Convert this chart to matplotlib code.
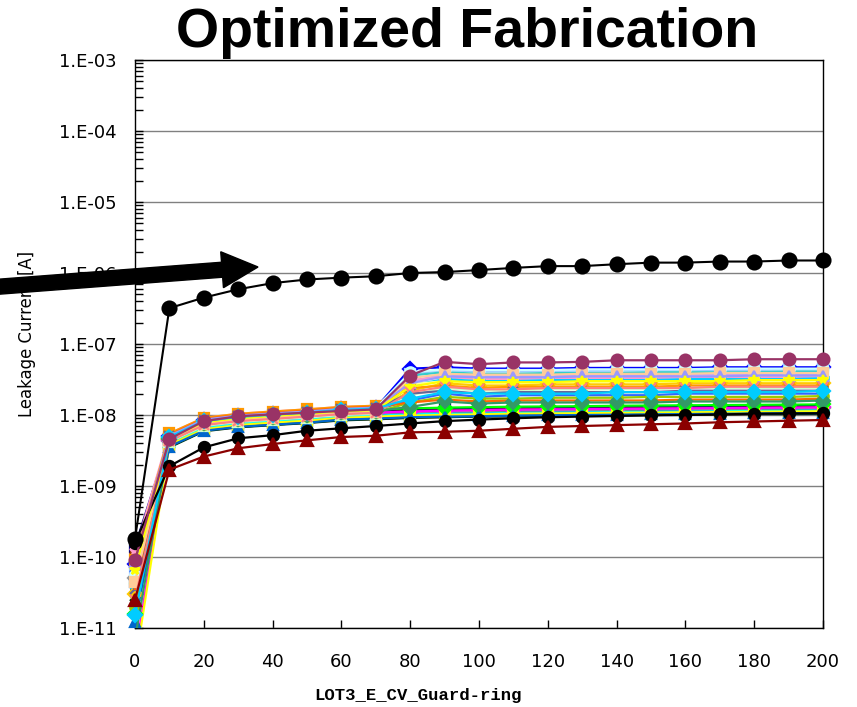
import numpy as np
import matplotlib
matplotlib.use("Agg")
import matplotlib.pyplot as plt
from matplotlib.patches import FancyArrow
from matplotlib.transforms import IdentityTransform
from matplotlib.ticker import LogLocator, NullFormatter, FuncFormatter

# bias voltage [V]
bias = [0, 10, 20, 30, 40, 50, 60, 70, 80, 90, 100,
        110, 120, 130, 140, 150, 160, 170, 180, 190, 200]

# leakage currents in nA (x 1e-9 A)
standard = [0.18, 320, 450, 590, 720, 810, 860, 900, 1000, 1030, 1100,
            1180, 1250, 1250, 1330, 1400, 1400, 1450, 1450, 1500, 1500]

low_tri = [0.025, 1.7, 2.6, 3.4, 3.9, 4.4, 4.9, 5.1, 5.7, 5.8, 6.0,
           6.4, 6.8, 7.0, 7.2, 7.4, 7.6, 7.9, 8.1, 8.3, 8.5]
low_circ = [0.16, 1.9, 3.5, 4.7, 5.2, 6.0, 6.5, 7.0, 7.6, 8.2, 8.6,
            9.0, 9.3, 9.5, 9.7, 9.9, 10.0, 10.2, 10.4, 10.5, 10.6]
top_circ = [0.09, 4.6, 8.2, 9.6, 10.2, 10.8, 11.4, 12.0, 36, 56, 52,
            55, 55, 56, 59, 59, 59, 59, 61, 61, 61]

# diodes whose current steps up around 80 V
step_rows = [
    [0.08, 5.0, 8.4, 9.6, 10.3, 11.0, 12.0, 12.5, 45, 47, 45, 45, 45, 46, 46, 46, 46, 47, 47, 47, 47],
    [0.06, 4.8, 8.0, 9.2, 9.9, 10.6, 11.5, 12.0, 38, 43, 41, 41, 42, 42, 42, 43, 43, 43, 43, 44, 44],
    [0.10, 5.2, 8.8, 10.0, 10.7, 11.5, 12.5, 13.0, 36, 40, 38, 38, 39, 39, 39, 40, 40, 40, 40, 41, 41],
    [0.05, 4.6, 7.7, 8.8, 9.5, 10.1, 11.0, 11.4, 30, 37, 35, 35, 36, 36, 36, 36, 37, 37, 37, 37, 38],
    [0.12, 5.5, 9.1, 10.4, 11.2, 12.0, 13.0, 13.5, 31, 34, 32, 32, 33, 33, 33, 33, 34, 34, 34, 34, 35],
    [0.04, 4.4, 7.4, 8.4, 9.0, 9.7, 10.5, 10.9, 26, 32, 30, 30, 31, 31, 31, 31, 32, 32, 32, 32, 33],
    [0.07, 5.0, 8.4, 9.6, 10.3, 11.0, 12.0, 12.5, 27, 30, 28, 28, 29, 29, 29, 29, 30, 30, 30, 30, 31],
    [0.03, 4.6, 7.7, 8.8, 9.5, 10.1, 11.0, 11.4, 22, 28, 26, 26, 27, 27, 27, 27, 28, 28, 28, 28, 28],
    [0.09, 5.5, 9.1, 10.4, 11.2, 12.0, 13.0, 13.5, 24, 26, 24, 25, 25, 25, 25, 25, 26, 26, 26, 26, 26],
    [0.05, 4.2, 7.0, 8.0, 8.6, 9.2, 10.0, 10.4, 19, 24, 22, 22, 23, 23, 23, 23, 24, 24, 24, 24, 24],
    [0.035, 5.0, 8.4, 9.6, 10.3, 11.0, 12.0, 12.5, 20, 22, 20, 21, 21, 21, 21, 21, 22, 22, 22, 22, 22],
    [0.06, 4.8, 8.0, 9.2, 9.9, 10.6, 11.5, 12.0, 16, 20, 18, 19, 19, 19, 19, 19, 20, 20, 20, 20, 20],
    [0.02, 4.4, 7.4, 8.4, 9.0, 9.7, 10.5, 10.9, 15, 18, 17, 17, 17.5, 17.5, 17.5, 18, 18, 18, 18, 18, 18.5],
    [0.04, 5.2, 8.8, 10.0, 10.7, 11.5, 12.5, 13.0, 15, 16.5, 15.5, 16, 16, 16, 16, 16, 16.5, 16.5, 16.5, 16.5, 17],
    [0.007, 4.6, 7.7, 8.8, 9.5, 10.1, 11.0, 11.4, 13, 15.5, 14.5, 15, 15, 15, 15, 15, 15.5, 15.5, 15.5, 15.5, 16],
    [0.055, 4.9, 8.2, 9.4, 10.1, 10.8, 11.8, 12.3, 40, 44, 43, 43, 43, 44, 44, 44, 44, 45, 45, 45, 45],
    [0.045, 4.5, 7.5, 8.6, 9.2, 9.9, 10.8, 11.2, 33, 38, 37, 37, 37, 38, 38, 38, 38, 39, 39, 39, 39],
    [0.085, 5.1, 8.6, 9.8, 10.5, 11.2, 12.2, 12.7, 28, 35, 34, 34, 34, 35, 35, 35, 35, 35, 36, 36, 36],
    [0.065, 4.7, 7.9, 9.0, 9.7, 10.4, 11.3, 11.7, 25, 30, 29, 29, 29, 30, 30, 30, 30, 30, 31, 31, 31],
    [0.025, 4.3, 7.2, 8.2, 8.8, 9.5, 10.3, 10.7, 21, 25, 23, 23, 24, 24, 24, 24, 24, 25, 25, 25, 25],
    [0.015, 4.9, 8.2, 9.4, 10.1, 10.8, 11.8, 12.3, 17, 21, 20, 20, 20, 20, 21, 21, 21, 21, 21, 21, 22],
]
step_colors = ['#0000FF', '#99CCFF', '#33CCCC', '#CC99FF', '#FF99CC', '#00CCFF', '#FFFF99',
               '#FFCC00', '#FF9900', '#CCFFCC', '#666699', '#3366FF', '#99CC00', '#FF6600', '#339966',
               '#CCFFFF', '#FFCC99', '#9999FF', '#FFFF00', '#FF8080', '#00CCFF']
step_marks = ['D', 's', '^', 'x', '*', 'o', '+', 'D', 's', '^', 'x', '*', 'o', '+', 'D',
              'o', 's', '^', '*', 'x', 'D']

# diodes that stay flat
flat_rows = [
    [0.14, 4.6, 7.7, 8.8, 9.5, 10.1, 11.0, 11.4, 11.9, 12.1, 12.3, 12.5, 12.7, 12.8, 12.9, 13.0, 13.1, 13.2, 13.3, 13.4, 13.5],
    [0.11, 4.4, 7.4, 8.4, 9.0, 9.7, 10.5, 10.9, 11.3, 11.6, 11.8, 12.0, 12.1, 12.2, 12.3, 12.4, 12.5, 12.6, 12.7, 12.8, 12.9],
    [0.09, 4.2, 7.0, 8.0, 8.6, 9.2, 10.0, 10.4, 10.8, 11.0, 11.2, 11.4, 11.5, 11.6, 11.7, 11.8, 11.9, 12.0, 12.1, 12.2, 12.3],
    [0.075, 4.0, 6.7, 7.6, 8.2, 8.7, 9.5, 9.9, 10.3, 10.5, 10.6, 10.8, 10.9, 11.0, 11.1, 11.2, 11.3, 11.4, 11.5, 11.6, 11.7],
    [0.065, 3.8, 6.3, 7.2, 7.7, 8.3, 9.0, 9.4, 9.7, 9.9, 10.1, 10.3, 10.4, 10.4, 10.5, 10.6, 10.7, 10.8, 10.9, 11.0, 11.1],
    [0.05, 4.3, 7.1, 8.2, 8.8, 9.4, 10.2, 10.6, 11.0, 11.2, 11.4, 11.6, 11.7, 11.8, 11.9, 12.0, 12.1, 12.2, 12.3, 12.4, 12.5],
    [0.045, 3.7, 6.2, 7.1, 7.7, 8.2, 8.9, 9.3, 9.6, 9.8, 10.0, 10.1, 10.2, 10.3, 10.4, 10.5, 10.6, 10.7, 10.8, 10.9, 11.0],
    [0.035, 3.6, 6.0, 6.8, 7.3, 7.8, 8.5, 8.8, 9.2, 9.4, 9.5, 9.7, 9.8, 9.9, 10.0, 10.0, 10.1, 10.2, 10.3, 10.4, 10.5],
    [0.03, 3.9, 6.6, 7.5, 8.1, 8.6, 9.4, 9.8, 10.2, 10.4, 10.5, 10.7, 10.8, 10.9, 11.0, 11.1, 11.2, 11.3, 11.4, 11.5, 11.6],
    [0.028, 3.5, 5.9, 6.7, 7.2, 7.7, 8.4, 8.7, 9.1, 9.3, 9.5, 9.6, 9.7, 9.8, 9.9, 10.0, 10.1, 10.2, 10.3, 10.3, 10.4],
    [0.004, 4.4, 7.3, 8.4, 9.0, 9.6, 10.4, 10.8, 11.2, 11.5, 11.7, 11.9, 12.0, 12.1, 12.2, 12.3, 12.4, 12.5, 12.6, 12.7, 12.8],
    [0.003, 3.8, 6.3, 7.2, 7.8, 8.3, 9.1, 9.5, 9.8, 10.0, 10.2, 10.4, 10.5, 10.6, 10.7, 10.8, 10.9, 11.0, 11.1, 11.2, 11.3],
    [0.016, 4.8, 8.0, 9.2, 9.9, 10.6, 11.5, 12.0, 12.4, 12.7, 12.9, 13.1, 13.2, 13.3, 13.5, 13.6, 13.7, 13.8, 13.9, 14.0, 14.1],
    [0.012, 3.6, 6.0, 6.8, 7.3, 7.8, 8.6, 8.9, 9.3, 9.5, 9.6, 9.8, 9.9, 10.0, 10.1, 10.2, 10.3, 10.4, 10.5, 10.6, 10.6],
]
flat_colors = ['#000080', '#993300', '#008080', '#800080', '#333399', '#969696', '#003366',
               '#993366', '#00FFFF', '#003300', '#FF00FF', '#FFFF00', '#00FF00', '#0066CC']
flat_marks = ['s', 'o', '^', 'x', '*', 'D', 's', '+', 'o', 'x', 'D', 's', 'D', '^']

plt.rcParams['font.family'] = 'DejaVu Sans'

fig = plt.figure(figsize=(8.57, 7.07), dpi=100)
ax = fig.add_axes([135 / 857, 79 / 707, 688 / 857, 568 / 707])

z = 2


def draw(vals, color, marker, ms=7.5, lw=1.6):
    global z
    y = np.array(vals) * 1e-9
    ax.plot(bias, y, '-', color=color, lw=lw, zorder=z)
    # markers may sit on the frame, but nothing below the axis floor
    ym = np.where(y >= 1e-11, y, np.nan)
    ax.plot(bias, ym, linestyle='none', marker=marker, ms=ms, color=color,
            mec=color, mew=1.6, clip_on=False, zorder=z + 0.5)
    z += 1


for row, c, m in zip(flat_rows, flat_colors, flat_marks):
    draw(row, c, m)
for row, c, m in zip(step_rows, step_colors, step_marks):
    draw(row, c, m)

draw(low_circ, 'black', 'o', ms=8)
draw(low_tri, '#8B0000', '^', ms=8)
draw(top_circ, '#993366', 'o', ms=8.5)
draw(standard, 'black', 'o', ms=10, lw=1.5)

ax.set_yscale('log')
ax.set_ylim(1e-11, 1e-3)
ax.set_xlim(0, 200)
ax.set_yticks(10.0 ** np.arange(-11, -2))
ax.yaxis.set_major_formatter(FuncFormatter(lambda v, p: "1.E-%02d" % round(-np.log10(v))))
ax.yaxis.set_minor_locator(LogLocator(subs=np.arange(2, 10), numticks=20))
ax.yaxis.set_minor_formatter(NullFormatter())
ax.set_xticks(np.arange(0, 201, 20))

ax.tick_params(axis='y', which='both', direction='in', length=6, width=1, pad=13, labelsize=13)
ax.tick_params(axis='x', direction='in', length=6, width=1, pad=18, labelsize=13)
ax.grid(axis='y', which='major', color='#808080', lw=1)
ax.set_axisbelow(True)
for s in ax.spines.values():
    s.set_color('black')
    s.set_linewidth(1)

fig.text(467 / 857, (707 - 47) / 707, "Optimized Fabrication", ha='center', va='baseline',
         fontsize=40, fontweight='bold', family='Liberation Sans')
fig.text(27 / 857, 1 - 334 / 707, "Leakage Current [A]", rotation=90,
         ha='center', va='center', fontsize=11.9)
fig.text(418 / 857, (707 - 700) / 707, "LOT3_E_CV_Guard-ring", ha='center', va='baseline',
         fontsize=12.4, fontweight='bold', family='Liberation Mono')

# pointer at the standard-process curve
arrow = FancyArrow(-5, 707 - 287, 263, 20, width=15, head_width=36, head_length=36,
                   length_includes_head=True, color='black', transform=IdentityTransform(),
                   zorder=20)
fig.add_artist(arrow)

fig.savefig("out.png", dpi=100)
